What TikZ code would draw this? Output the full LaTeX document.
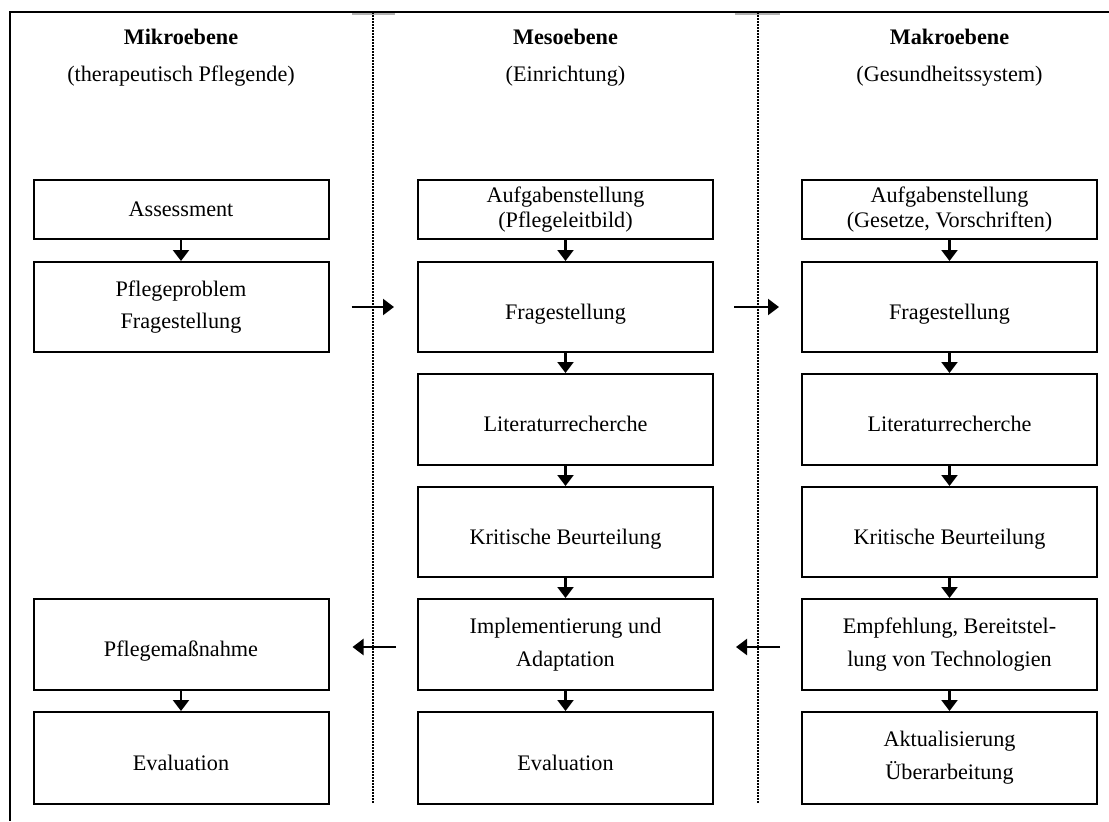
\documentclass[tikz,border=0pt]{standalone}
\usepackage{fontspec}
\setmainfont{Liberation Serif}
\usetikzlibrary{arrows.meta}
\begin{document}
\begin{tikzpicture}[x=0.5pt,y=-0.5pt,
  every node/.style={font=\fontsize{11.1}{16.4}\selectfont, inner sep=0pt},
  box/.style={draw, line width=1pt, minimum width=147.5pt, align=center},
  tight/.style={font=\fontsize{11.1}{12.9}\selectfont},
  low/.style={text height=14.5pt, text depth=2.5pt},
  flow/.style={line width=1.1pt, -{Triangle[length=5.5pt,width=8pt]}},
  sep/.style={line width=0.8pt, dash pattern=on 0.75pt off 0.75pt},
  head/.style={anchor=base, font=\fontsize{11.1}{13}\selectfont\bfseries},
  sub/.style={anchor=base}
]
\useasboundingbox (0,0) rectangle (1109,821);

% frame: top rule and left rule only
\draw[line width=1pt] (1109,12) -- (10,12) -- (10,821);
\draw[gray!60, line width=0.6pt] (352,14) -- (395,14);
\draw[gray!60, line width=0.6pt] (735,14) -- (780,14);

% column separators
\draw[sep] (373,12) -- (373,803);
\draw[sep] (758,12) -- (758,803);

% column headings
\node[head] (h1) at (181,44) {Mikroebene};
\node[sub]  (s1) at (181,81) {(therapeutisch Pflegende)};
\node[head] (h2) at (565.5,44) {Mesoebene};
\node[sub]  (s2) at (565.5,81) {(Einrichtung)};
\node[head] (h3) at (949.5,44) {Makroebene};
\node[sub]  (s3) at (949.5,81) {(Gesundheitssystem)};

% micro level
\node[box, tight, minimum height=29.5pt] (a1) at (181,209.5) {Assessment};
\node[box, minimum height=45pt]        (a2) at (181,307)   {Pflegeproblem\\Fragestellung};
\node[box, low, minimum height=45.5pt] (a5) at (181,644.5) {Pflegemaßnahme};
\node[box, low, minimum height=46pt]   (a6) at (181,758)   {Evaluation};

% meso level
\node[box, tight, minimum height=29.5pt] (b1) at (565.5,209.5) {Aufgabenstellung\\(Pflegeleitbild)};
\node[box, low, minimum height=45pt]   (b2) at (565.5,307)   {Fragestellung};
\node[box, low, minimum height=45.5pt] (b3) at (565.5,419.5) {Literaturrecherche};
\node[box, low, minimum height=45pt]   (b4) at (565.5,532)   {Kritische Beurteilung};
\node[box, minimum height=45.5pt]      (b5) at (565.5,644.5) {Implementierung und\\Adaptation};
\node[box, low, minimum height=46pt]   (b6) at (565.5,758)   {Evaluation};

% macro level
\node[box, tight, minimum height=29.5pt] (c1) at (949.5,209.5) {Aufgabenstellung\\(Gesetze, Vorschriften)};
\node[box, low, minimum height=45pt]   (c2) at (949.5,307)   {Fragestellung};
\node[box, low, minimum height=45.5pt] (c3) at (949.5,419.5) {Literaturrecherche};
\node[box, low, minimum height=45pt]   (c4) at (949.5,532)   {Kritische Beurteilung};
\node[box, minimum height=45.5pt]      (c5) at (949.5,644.5) {Empfehlung, Bereitstel-\\lung von Technologien};
\node[box, minimum height=46pt]        (c6) at (949.5,758)   {Aktualisierung\\Überarbeitung};

% vertical flow
\draw[flow] (a1) -- (a2);
\draw[flow] (a5) -- (a6);
\foreach \i/\j in {1/2,2/3,3/4,4/5,5/6} {
  \draw[flow] (b\i) -- (b\j);
  \draw[flow] (c\i) -- (c\j);
}

% flow between levels
\draw[flow, shorten <=11pt, shorten >=11.5pt] (a2.east) -- (b2.west);
\draw[flow, shorten <=10pt, shorten >=11pt] (b2.east) -- (c2.west);
\draw[flow, shorten <=10.5pt, shorten >=11.5pt] ([yshift=-1.25pt]b5.west) -- ([yshift=-1.25pt]a5.east);
\draw[flow, shorten <=10.5pt, shorten >=11pt] ([yshift=-1.25pt]c5.west) -- ([yshift=-1.25pt]b5.east);
\end{tikzpicture}
\end{document}
